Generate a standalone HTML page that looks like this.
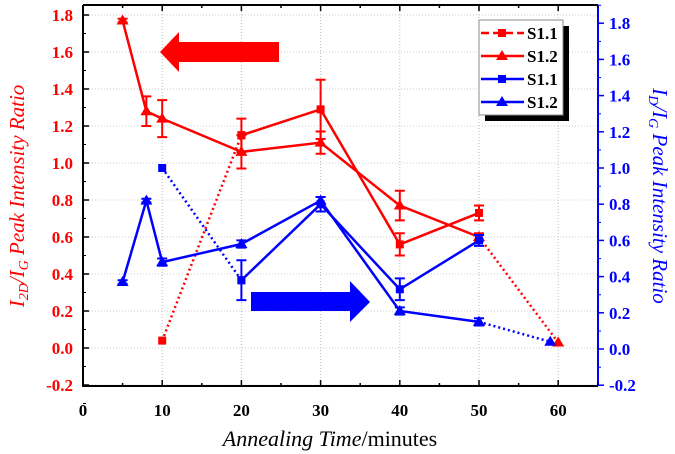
<!DOCTYPE html>
<html><head><meta charset="utf-8"><style>
body{margin:0;background:#fff}
svg{display:block;font-family:"Liberation Serif",serif}
</style></head><body>
<svg id="c" width="675" height="454"></svg>
<script>
const xTicks=[0,10,20,30,40,50,60];
const yLTicks=[-0.2,0,0.2,0.4,0.6,0.8,1.0,1.2,1.4,1.6,1.8];
const yRTicks=[-0.2,0,0.2,0.4,0.6,0.8,1.0,1.2,1.4,1.6,1.8];
const rS11x=[20,30,40,50];const rS11y=[1.15,1.29,0.56,0.73];const rS11e=[0.09,0.16,0.06,0.04];
const rS11dx=[10,20];const rS11dy=[0.04,1.15];
const rS12x=[5,8,10,20,30,40,50];const rS12y=[1.77,1.28,1.24,1.06,1.11,0.77,0.60];const rS12e=[0.01,0.08,0.10,0.09,0.06,0.08,0.02];
const rS12dx=[50,60];const rS12dy=[0.60,0.03];
const bS11x=[20,30,40,50];const bS11y=[0.38,0.80,0.33,0.60];const bS11e=[0.11,0.04,0.06,0.03];
const bS11dx=[10,20];const bS11dy=[1.0,0.38];
const bS12x=[5,8,10,20,30,40,50];const bS12y=[0.37,0.82,0.48,0.58,0.82,0.21,0.15];const bS12e=[0.01,0.01,0.02,0.02,0.02,0.02,0.02];
const bS12dx=[50,59];const bS12dy=[0.15,0.04];
const X=v=>83+v*7.92;
const YL=v=>348-v*185;
const YR=v=>349-v*181;
const svg=document.getElementById('c');const NS='http://www.w3.org/2000/svg';
function el(t,a,p){const e=document.createElementNS(NS,t);for(const k in a)e.setAttribute(k,a[k]);(p||svg).appendChild(e);return e;}
xTicks.forEach(t=>{if(t>0){const g=el('line',{x1:X(t),x2:X(t),y1:5,y2:386,stroke:'#bbb','stroke-dasharray':'1,2'});
}});
yLTicks.forEach(t=>{const g=el('line',{x1:83,x2:598,y1:YL(t),y2:YL(t),stroke:'#ccc','stroke-dasharray':'1,2'});
});
const ax=el('path',{d:'M83 5 V386 H598 M83 5 H598',stroke:'#000','stroke-width':2,fill:'none'});

const ra=el('line',{x1:598,x2:598,y1:5,y2:386,stroke:'#00f','stroke-width':2});

for(let m=0;m<=65;m+=5){const big=m%10==0;el('line',{x1:X(m),x2:X(m),y1:386,y2:386-(big?6:3),stroke:'#000','stroke-width':1.5});el('line',{x1:X(m),x2:X(m),y1:5,y2:5+(big?6:3),stroke:'#000','stroke-width':1.5});}
xTicks.forEach(t=>{const e=el('text',{x:X(t),y:416,'text-anchor':'middle','font-size':17,'font-weight':'bold'});e.textContent=t;
});
yLTicks.forEach(t=>{el('line',{x1:83,x2:89,y1:YL(t),y2:YL(t),stroke:'#000','stroke-width':1.5});el('line',{x1:83,x2:86,y1:YL(t)+18.5,y2:YL(t)+18.5,stroke:'#000'});
const e=el('text',{x:73,y:YL(t)+6,'text-anchor':'end','font-size':17,'font-weight':'bold',fill:'#f00'});e.textContent=t.toFixed(1);
});
yRTicks.forEach(t=>{el('line',{x1:598,x2:604,y1:YR(t),y2:YR(t),stroke:'#00f','stroke-width':1.5});el('line',{x1:598,x2:601,y1:YR(t)-18,y2:YR(t)-18,stroke:'#00f'});
const e=el('text',{x:609,y:YR(t)+6,'font-size':17,'font-weight':'bold',fill:'#00f'});e.textContent=t.toFixed(1);
});
let tt=el('text',{x:330,y:446,'text-anchor':'middle','font-size':22});tt.innerHTML='<tspan font-style="italic">Annealing Time</tspan>/minutes';

tt=el('text',{transform:'translate(24,196) rotate(-90)','text-anchor':'middle','font-size':21,'font-style':'italic',fill:'#f00'});
tt.innerHTML='I<tspan font-size="14" dy="4">2D</tspan><tspan dy="-4">/I</tspan><tspan font-size="14" dy="4">G</tspan><tspan dy="-4"> Peak Intensity Ratio</tspan>';

tt=el('text',{transform:'translate(653,196) rotate(90)','text-anchor':'middle','font-size':21,'font-style':'italic',fill:'#00f'});
tt.innerHTML='I<tspan font-size="14" dy="4">D</tspan><tspan dy="-4">/I</tspan><tspan font-size="14" dy="4">G</tspan><tspan dy="-4"> Peak Intensity Ratio</tspan>';

let a=el('polygon',{points:'160,52 179,32 179,42 279,42 279,62 179,62 179,72',fill:'#f00'});

a=el('polygon',{points:'251,292 350,292 350,281 370,302 350,322 350,311 251,311',fill:'#00f'});

function marker(x,y,c,shape){if(shape=='s')return el('rect',{x:x-4,y:y-4,width:8,height:8,fill:c});
return el('polygon',{points:`${x},${y-6} ${x+6},${y+4} ${x-6},${y+4}`,fill:c});}
function series(xs,ys,es,Y,c,shape,name,dash){
const g=el('g',{});
const p=el('polyline',{points:xs.map((x,i)=>X(x)+','+Y(ys[i])).join(' '),fill:'none',stroke:c,'stroke-width':2.5},g);
if(dash)p.setAttribute('stroke-dasharray','2,3');
xs.forEach((x,i)=>{if(es){const cx=X(x),t=Y(ys[i]+es[i]),b=Y(ys[i]-es[i]);
el('path',{d:`M${cx} ${t}V${b}M${cx-5} ${t}H${cx+5}M${cx-5} ${b}H${cx+5}`,stroke:c,'stroke-width':2,fill:'none'},g);}
const m=marker(X(x),Y(ys[i]),c,shape);g.appendChild(m);});}
series(rS11dx,rS11dy,null,YL,'#f00','s','red-s11-dotted',true);
series(rS12dx,rS12dy,null,YL,'#f00','t','red-s12-dotted',true);
series(bS11dx,bS11dy,null,YR,'#00f','s','blue-s11-dotted',true);
series(bS12dx,bS12dy,null,YR,'#00f','t','blue-s12-dotted',true);
series(rS11x,rS11y,rS11e,YL,'#f00','s','red-s11-series');
series(rS12x,rS12y,rS12e,YL,'#f00','t','red-s12-series');
series(bS11x,bS11y,bS11e,YR,'#00f','s','blue-s11-series');
series(bS12x,bS12y,bS12e,YR,'#00f','t','blue-s12-series');
const lg=el('g',{});
el('rect',{x:485,y:26,width:84,height:95,fill:'#000'},lg);
el('rect',{x:479,y:20,width:84,height:95,fill:'#fff',stroke:'#888'},lg);
[['#f00','s','S1.1',true],['#f00','t','S1.2'],['#00f','s','S1.1'],['#00f','t','S1.2']].forEach((d,i)=>{
const y=33+i*23;const l=el('line',{x1:481,x2:524,y1:y,y2:y,stroke:d[0],'stroke-width':2.5},lg);if(d[3])l.setAttribute('stroke-dasharray','8,4');
lg.appendChild(marker(502,y,d[0],d[1]));
const t=el('text',{x:527,y:y+6,'font-size':17,'font-weight':'bold'},lg);t.textContent=d[2];
});
</script></body></html>
